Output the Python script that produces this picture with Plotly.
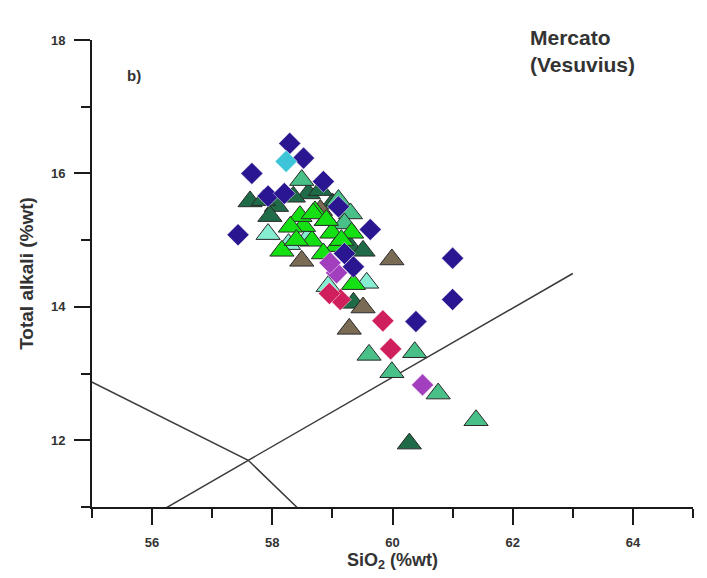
import plotly.graph_objects as go

# TAS boundary lines (SiO2, total alkali)
line1_x = [52.5, 57.6, 63.0]
line1_y = [14.0, 11.7, 7.0]
line2_x = [53.0, 57.6, 63.0]
line2_y = [9.3, 11.7, 14.5]

# Diamond series
navy_x = [57.43, 57.66, 57.93, 58.29, 58.52, 58.85, 59.63, 61.0, 61.0, 60.39, 58.2, 59.1, 59.2, 59.35]
navy_y = [15.08, 16.0, 15.66, 16.45, 16.23, 15.88, 15.16, 14.73, 14.11, 13.78, 15.7, 15.5, 14.8, 14.6]
cyan_x = [58.23]
cyan_y = [16.18]
crimson_x = [59.84, 59.97, 59.13, 58.95]
crimson_y = [13.79, 13.37, 14.11, 14.2]
purple_x = [60.5, 59.07, 58.96]
purple_y = [12.83, 14.51, 14.66]

# Triangle series
dkgreen_x = [60.28, 58.07, 57.63, 57.96, 58.6, 59.0, 59.3, 59.35, 59.51, 58.35, 58.8, 57.85]
dkgreen_y = [11.95, 15.51, 15.58, 15.36, 15.7, 15.55, 14.9, 14.06, 14.84, 15.65, 15.75, 15.6]
medgreen_x = [59.61, 60.37, 59.99, 60.76, 61.39, 58.49, 59.1, 59.3, 58.9, 59.2]
medgreen_y = [13.28, 13.32, 13.02, 12.70, 12.30, 15.9, 15.6, 15.4, 15.3, 15.25]
aqua_x = [57.93, 58.27, 58.93, 59.57, 58.6]
aqua_y = [15.09, 14.94, 14.31, 14.36, 15.05]
brown_x = [59.99, 59.28, 58.49, 59.51, 58.8]
brown_y = [14.71, 13.67, 14.69, 13.99, 15.45]
bright_x = [58.16, 58.66, 58.52, 59.07, 58.99, 59.32, 59.35, 58.71, 58.46, 58.68, 58.3, 58.9, 58.4, 58.85, 59.15]
bright_y = [14.84, 14.99, 15.21, 14.91, 15.11, 15.11, 14.34, 15.43, 15.36, 15.40, 15.2, 15.3, 15.0, 14.8, 15.0]

FONT = "Liberation Sans, Arial, sans-serif"
TXT = "#333333"

fig = go.Figure()

for lx, ly in [(line1_x, line1_y), (line2_x, line2_y)]:
    fig.add_trace(go.Scatter(x=lx, y=ly, mode="lines",
                             line=dict(color="#3a3a3a", width=1.5),
                             showlegend=False, hoverinfo="skip"))

outline = dict(color="#2a2a2a", width=1)

tri_series = [
    (dkgreen_x, dkgreen_y, "#1f6b48"),
    (medgreen_x, medgreen_y, "#48c088"),
    (aqua_x, aqua_y, "#86ecd2"),
    (brown_x, brown_y, "#7a6b55"),
    (bright_x, bright_y, "#14e014"),
]
for sx, sy, c in tri_series:
    fig.add_trace(go.Scatter(x=sx, y=sy, mode="markers",
                             marker=dict(symbol="triangle-up", size=21, color=c, line=outline),
                             showlegend=False))

dia_series = [
    (navy_x, navy_y, "#2a1690"),
    (cyan_x, cyan_y, "#3cc4d8"),
    (crimson_x, crimson_y, "#cf1f5c"),
    (purple_x, purple_y, "#a23fbe"),
]
for sx, sy, c in dia_series:
    fig.add_trace(go.Scatter(x=sx, y=sy, mode="markers",
                             marker=dict(symbol="diamond", size=17, color=c,
                                         line=dict(color="#ffffff", width=0.5)),
                             showlegend=False))

axis_common = dict(showgrid=False, zeroline=False,
                   showline=True, linecolor="#1a1a1a", linewidth=2,
                   ticks="outside", ticklen=16, tickwidth=2, tickcolor="#1a1a1a",
                   minor=dict(dtick=1, ticks="outside", ticklen=9, tickwidth=2, tickcolor="#1a1a1a"),
                   tickfont=dict(family=FONT, size=13, color=TXT),
                   tickprefix="<b>", ticksuffix="</b>")

fig.update_layout(
    width=707, height=578,
    margin=dict(l=92, r=14, t=40, b=71),
    paper_bgcolor="white", plot_bgcolor="white",
    showlegend=False,
    xaxis=dict(range=[55, 65], dtick=2, tick0=0, ticklabelstandoff=6,
               title=dict(text="<b>SiO<sub>2</sub> (%wt)</b>", standoff=2,
                          font=dict(family=FONT, size=18, color=TXT)),
               **axis_common),
    yaxis=dict(range=[11, 18], dtick=2, tick0=0, ticklabelstandoff=6,
               title=dict(text="<b>Total alkali (%wt)</b>", standoff=12,
                          font=dict(family=FONT, size=19, color=TXT)),
               **axis_common),
    annotations=[
        dict(text="<b>b)</b>", x=0.055, y=0.925, xref="paper", yref="paper",
             showarrow=False, xanchor="left", yanchor="middle",
             font=dict(family=FONT, size=15, color=TXT)),
        dict(text="<b>Mercato<br>(Vesuvius)</b>", x=0.725, y=1.035, xref="paper", yref="paper",
             showarrow=False, xanchor="left", yanchor="top", align="left",
             font=dict(family=FONT, size=21, color=TXT)),
    ],
)

fig.write_html("out.html")
